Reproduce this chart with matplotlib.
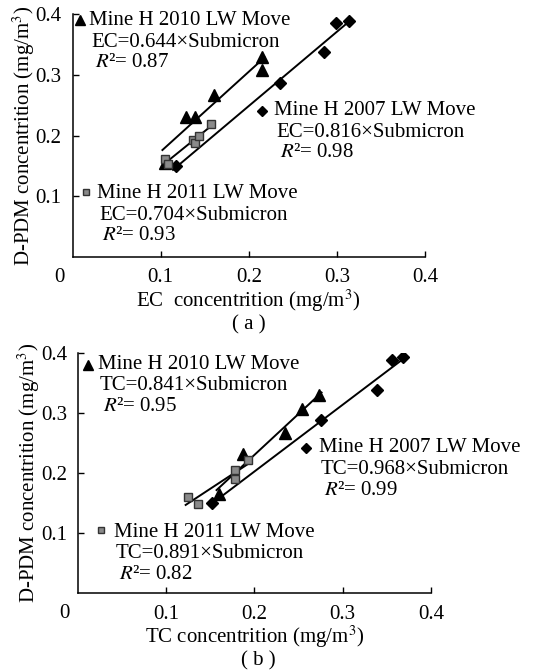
import numpy as np
import matplotlib
matplotlib.use("Agg")
import matplotlib.pyplot as plt

plt.rcParams['font.family'] = ['Liberation Serif', 'DejaVu Serif']
plt.rcParams['mathtext.fontset'] = 'stix'

# panel (a): EC vs D-PDM
ec_2010_x = [0.105, 0.129, 0.139, 0.161, 0.215, 0.215]
ec_2010_y = [0.155, 0.230, 0.231, 0.267, 0.308, 0.329]
ec_2007_x = [0.117, 0.235, 0.285, 0.299, 0.314]
ec_2007_y = [0.150, 0.287, 0.337, 0.386, 0.389]
ec_2011_x = [0.105, 0.108, 0.137, 0.139, 0.143, 0.157]
ec_2011_y = [0.161, 0.153, 0.192, 0.188, 0.200, 0.219]

# panel (b): TC vs D-PDM
tc_2010_x = [0.160, 0.187, 0.235, 0.254, 0.273]
tc_2010_y = [0.165, 0.231, 0.267, 0.307, 0.330]
tc_2007_x = [0.152, 0.275, 0.339, 0.356, 0.368]
tc_2007_y = [0.150, 0.289, 0.338, 0.388, 0.392]
tc_2011_x = [0.125, 0.136, 0.178, 0.178, 0.193]
tc_2011_y = [0.161, 0.149, 0.205, 0.191, 0.222]

series_names = ["Mine H 2010 LW Move", "Mine H 2007 LW Move", "Mine H 2011 LW Move"]
ec_coefs = ["0.644", "0.816", "0.704"]
ec_r2 = ["0.87", "0.98", "0.93"]
tc_coefs = ["0.841", "0.968", "0.891"]
tc_r2 = ["0.95", "0.99", "0.82"]

ticks = [0.1, 0.2, 0.3, 0.4]
tick_labels = ["0.1", "0.2", "0.3", "0.4"]

MARKERS = [
    dict(marker='^', ms=8.5, mfc='black', mec='black'),
    dict(marker='D', ms=6, mfc='black', mec='black'),
    dict(marker='s', ms=5.5, mfc='#8a8a8a', mec='#333333', mew=1.0),
]
FS = 15


def draw_panel(ax, data, prefix, coefs, r2s, label_pos, xlabel):
    """Scatter + fitted line for each mine, with the text labels."""
    for (xs, ys), style in zip(data, MARKERS):
        xs = np.array(xs)
        ys = np.array(ys)
        k, b = np.polyfit(xs, ys, 1)
        xx = np.array([xs.min() - 0.003, xs.max() + 0.003])
        ax.plot(xx, k * xx + b, '-', color='black', lw=1.4, zorder=2)
        ax.plot(xs, ys, ls='none', zorder=3, **style)

    for i, (mx, my, tx, ty) in enumerate(label_pos):
        ax.plot([mx], [my], ls='none', clip_on=False,
                **dict(MARKERS[i], ms=MARKERS[i]['ms'] * 0.8))
        ax.text(tx, ty, series_names[i], fontsize=FS, va='center', ha='left')
        ax.text(tx + 0.002, ty - 0.036, prefix + "=" + coefs[i] + "\u00d7Submicron",
                fontsize=FS, va='center', ha='left')
        ax.text(tx + 0.006, ty - 0.070, r"$R$" + "\u00b2= " + r2s[i],
                fontsize=FS, va='center', ha='left')

    ax.set_xlim(0, 0.4)
    ax.set_ylim(0, 0.4)
    ax.set_xticks(ticks)
    ax.set_xticklabels(tick_labels)
    ax.set_yticks(ticks)
    ax.set_yticklabels(tick_labels)
    ax.tick_params(direction='in', length=4, width=1, labelsize=15, pad=8)
    ax.spines['top'].set_visible(False)
    ax.spines['right'].set_visible(False)
    for s in ('left', 'bottom'):
        ax.spines[s].set_linewidth(1.1)
    ax.text(-0.015, -0.018, "0", fontsize=15, ha='center', va='top')
    ax.set_xlabel(xlabel, fontsize=15, labelpad=0)
    ax.set_ylabel("D-PDM concentrition (mg/m$^3$)", fontsize=15, labelpad=-1)


fig = plt.figure(figsize=(5.36, 6.71), dpi=100)
ax_a = fig.add_axes([0.1353, 0.617, 0.6577, 0.362])
ax_b = fig.add_axes([0.1455, 0.1155, 0.6586, 0.3589])

draw_panel(ax_a,
           [(ec_2010_x, ec_2010_y), (ec_2007_x, ec_2007_y), (ec_2011_x, ec_2011_y)],
           "EC", ec_coefs, ec_r2,
           [(0.0085, 0.390, 0.019, 0.390),
            (0.2146, 0.2405, 0.229, 0.2415),
            (0.0153, 0.107, 0.028, 0.105)],
           "EC  concentrition (mg/m$^3$)")

draw_panel(ax_b,
           [(tc_2010_x, tc_2010_y), (tc_2007_x, tc_2007_y), (tc_2011_x, tc_2011_y)],
           "TC", tc_coefs, tc_r2,
           [(0.0114, 0.380, 0.0227, 0.381),
            (0.258, 0.2417, 0.2727, 0.2417),
            (0.026, 0.1055, 0.041, 0.102)],
           "TC concentrition (mg/m$^3$)")

fig.text(249 / 536, 1 - 325 / 671, "( a )", fontsize=15, ha='center', va='center')
fig.text(258 / 536, 1 - 661 / 671, "( b )", fontsize=15, ha='center', va='center')

fig.savefig("out.png", dpi=100)
